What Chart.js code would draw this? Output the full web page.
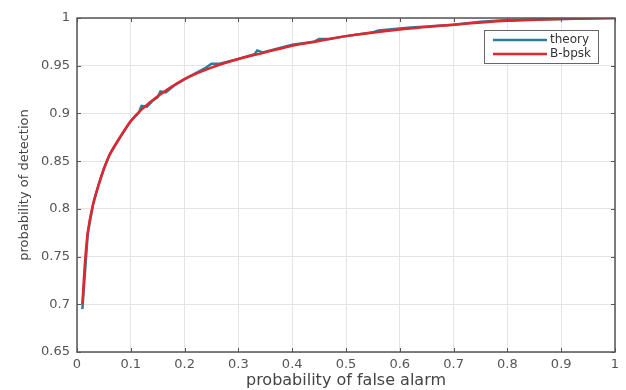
<!DOCTYPE html>
<html>
<head>
<meta charset="utf-8">
<script src="https://cdn.jsdelivr.net/npm/chart.js@4"></script>
<style>
  html, body { margin: 0; padding: 0; background: #fff; }
  #wrap { width: 626px; height: 390px; }
</style>
</head>
<body>
<div id="wrap"><canvas id="roc"></canvas></div>
<script>
// values
const theoryPfa = [0.01, 0.02, 0.03, 0.04, 0.05, 0.06, 0.08, 0.1, 0.115, 0.12, 0.13, 0.14, 0.15, 0.155, 0.165, 0.18, 0.2, 0.22, 0.24, 0.25, 0.265, 0.3, 0.33, 0.335, 0.345, 0.4, 0.44, 0.45, 0.47, 0.5, 0.55, 0.56, 0.6, 0.62, 0.65, 0.7, 0.75, 0.8, 0.9, 1.0];
const theoryPd  = [0.695, 0.774, 0.805, 0.825, 0.842, 0.856, 0.875, 0.892, 0.901, 0.908, 0.907, 0.913, 0.917, 0.923, 0.922, 0.929, 0.936, 0.942, 0.948, 0.952, 0.952, 0.957, 0.962, 0.966, 0.964, 0.972, 0.975, 0.978, 0.978, 0.981, 0.985, 0.987, 0.989, 0.990, 0.991, 0.993, 0.996, 0.998, 0.999, 1.0];

const bpskPfa = [0.01, 0.015, 0.02, 0.03, 0.04, 0.05, 0.06, 0.08, 0.1, 0.12, 0.15, 0.2, 0.25, 0.3, 0.35, 0.4, 0.45, 0.5, 0.6, 0.7, 0.8, 0.9, 1.0];
const bpskPd  = [0.70, 0.745, 0.775, 0.805, 0.825, 0.842, 0.856, 0.875, 0.892, 0.904, 0.918, 0.936, 0.948, 0.957, 0.964, 0.971, 0.976, 0.981, 0.988, 0.993, 0.997, 0.999, 1.0];

const seriesNames = ['theory', 'B-bpsk'];
const xTicks = [0, 0.1, 0.2, 0.3, 0.4, 0.5, 0.6, 0.7, 0.8, 0.9, 1];
const yTicks = [0.65, 0.7, 0.75, 0.8, 0.85, 0.9, 0.95, 1];

const blue = '#2f7c99';
const red = '#e0262e';

function toPoints(xs, ys){
    return xs.map((x, i) => ({x: x, y: ys[i]}));
}

const fmt = (v) => String(+Number(v).toFixed(2));

// box round the axes, inner tick marks and the legend, matlab style
const boxPlugin = {
    id: 'box',
    afterDraw(chart){
        const ctx = chart.ctx;
        const a = chart.chartArea;
        const xs = chart.scales.x, ys = chart.scales.y;
        ctx.save();
        ctx.strokeStyle = '#555';
        ctx.lineWidth = 1;
        ctx.beginPath();
        xTicks.forEach(t => {
            const px = Math.round(xs.getPixelForValue(t)) + 0.5;
            ctx.moveTo(px, a.bottom); ctx.lineTo(px, a.bottom - 4);
            ctx.moveTo(px, a.top); ctx.lineTo(px, a.top + 4);
        });
        yTicks.forEach(t => {
            const py = Math.round(ys.getPixelForValue(t)) + 0.5;
            ctx.moveTo(a.left, py); ctx.lineTo(a.left + 4, py);
            ctx.moveTo(a.right, py); ctx.lineTo(a.right - 4, py);
        });
        ctx.stroke();
        ctx.lineWidth = 1.5;
        ctx.strokeRect(a.left, a.top, a.right - a.left, a.bottom - a.top);

        // legend
        const lx = a.right - 131, ly = a.top + 12, lw = 114, lh = 33;
        ctx.fillStyle = '#fff';
        ctx.fillRect(lx, ly, lw, lh);
        ctx.lineWidth = 1;
        ctx.strokeStyle = '#666';
        ctx.strokeRect(lx + 0.5, ly + 0.5, lw, lh);
        const colors = [blue, red];
        ctx.font = '12px "DejaVu Sans"';
        ctx.textBaseline = 'middle';
        seriesNames.forEach((name, i) => {
            const y = ly + 10 + i * 14;
            ctx.strokeStyle = colors[i];
            ctx.lineWidth = 2.5;
            ctx.beginPath();
            ctx.moveTo(lx + 9, y); ctx.lineTo(lx + 63, y);
            ctx.stroke();
            ctx.fillStyle = '#333';
            ctx.fillText(name, lx + 66, y);
        });
        ctx.restore();
    }
};

new Chart(document.querySelector('#roc'), {
    type: 'line',
    data: {
        datasets: [
            {
                label: seriesNames[0],
                data: toPoints(theoryPfa, theoryPd),
                borderColor: blue,
                borderWidth: 2.5,
                pointRadius: 0,
                tension: 0,
                order: 2
            },
            {
                label: seriesNames[1],
                data: toPoints(bpskPfa, bpskPd),
                borderColor: red,
                borderWidth: 2.5,
                pointRadius: 0,
                cubicInterpolationMode: 'monotone',
                order: 1
            }
        ]
    },
    options: {
        responsive: true,
        maintainAspectRatio: false,
        animation: false,
        layout: { padding: { top: 18, right: 11, left: 0, bottom: 0 } },
        plugins: {
            legend: { display: false },
            tooltip: { enabled: false }
        },
        scales: {
            x: {
                type: 'linear',
                min: 0, max: 1,
                afterBuildTicks: (s) => { s.ticks = xTicks.map(v => ({value: v})); },
                afterFit: (s) => { s.height = 38; },
                grid: { color: '#e4e4e4', drawTicks: false },
                border: { display: false },
                ticks: {
                    padding: 5,
                    color: '#555',
                    font: { family: 'DejaVu Sans', size: 13 },
                    callback: fmt
                },
                title: {
                    display: true,
                    text: 'probability of false alarm',
                    color: '#444',
                    font: { family: 'DejaVu Sans', size: 16 },
                    padding: { top: 0, bottom: 0 }
                }
            },
            y: {
                type: 'linear',
                min: 0.65, max: 1,
                afterBuildTicks: (s) => { s.ticks = yTicks.map(v => ({value: v})); },
                afterFit: (s) => { s.width = 77; },
                grid: { color: '#e4e4e4', drawTicks: false },
                border: { display: false },
                ticks: {
                    padding: 7,
                    color: '#555',
                    font: { family: 'DejaVu Sans', size: 13 },
                    callback: fmt
                },
                title: {
                    display: true,
                    text: 'probability of detection',
                    color: '#444',
                    font: { family: 'DejaVu Sans', size: 13 },
                    padding: { top: 17, bottom: 0 }
                }
            }
        }
    },
    plugins: [boxPlugin]
});
</script>
</body>
</html>
